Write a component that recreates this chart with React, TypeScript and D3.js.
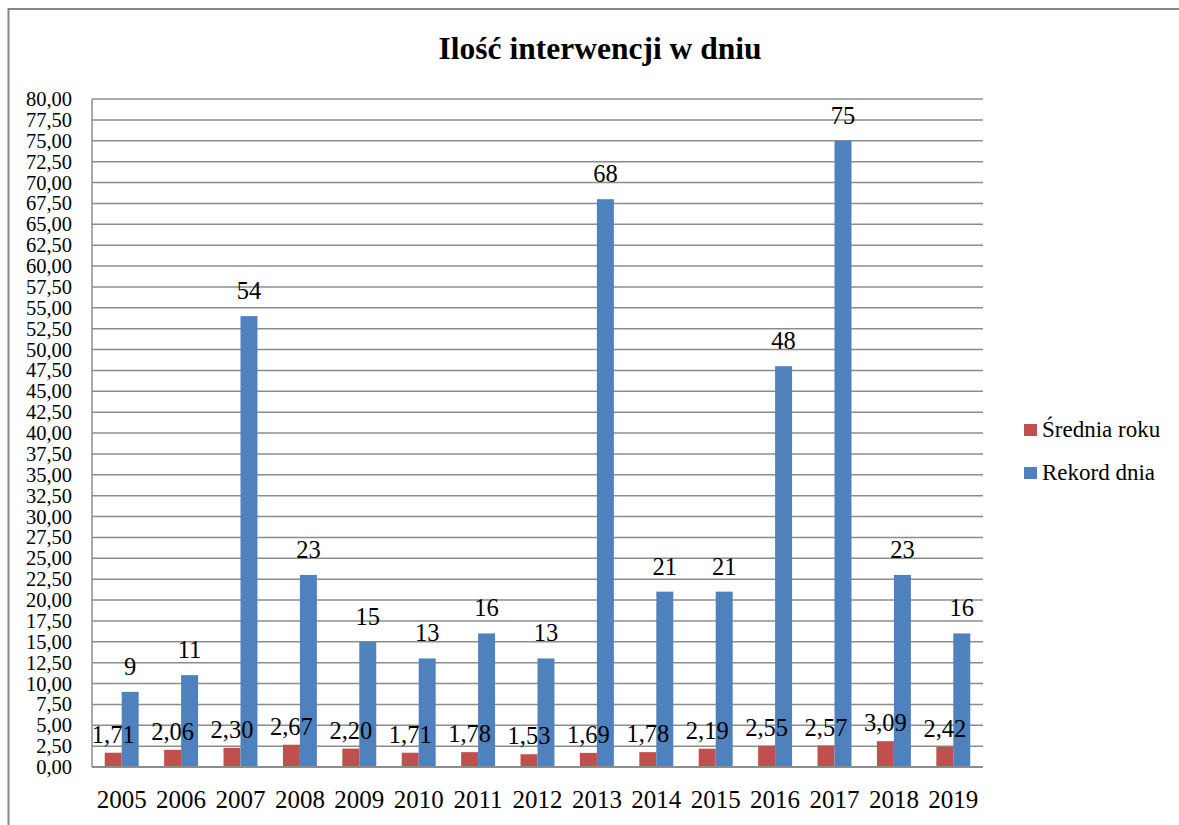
import React from "react";
import * as d3 from "d3";

const years = ["2005","2006","2007","2008","2009","2010","2011","2012","2013","2014","2015","2016","2017","2018","2019"];
const sredniaRoku = [1.71,2.06,2.30,2.67,2.20,1.71,1.78,1.53,1.69,1.78,2.19,2.55,2.57,3.09,2.42];
const rekordDnia = [9,11,54,23,15,13,16,13,68,21,21,48,75,23,16];
const seriesNames = ["Średnia roku","Rekord dnia"];
const seriesColors = ["#C0504D","#4F81BD"];
const yTicks = d3.range(0, 80.001, 2.5);

const W = 1179, H = 825;
const plotLeft = 92, plotRight = 983, plotTop = 99, plotBottom = 767;
const FONT = "Liberation Serif, Times New Roman, serif";

export default function App() {
  const x0 = d3.scaleBand<string>().domain(years).range([plotLeft, plotRight]).paddingInner(0.4286).paddingOuter(0.2143);
  const x1 = d3.scaleBand<string>().domain(seriesNames).range([0, x0.bandwidth()]);
  const y = d3.scaleLinear().domain([0, 80]).range([plotBottom, plotTop]);
  const fmt = (v: number) => d3.format(".2f")(v).replace(".", ",");
  const seriesData = [sredniaRoku, rekordDnia];
  const labelGap = [10, 17];
  const ts = { fontFamily: FONT };

  return (
    <svg width={W} height={H} style={{ position: "absolute", left: 0, top: 0, background: "#fff" }}>
      <rect x={0} y={0} width={W} height={H} fill="#fff" />
      <rect x={8.5} y={9} width={W + 20} height={H + 20} fill="none" stroke="#868686" strokeWidth={2} />
      <text x={600} y={59} textAnchor="middle" fontSize={31.5} fontWeight="bold" fill="#000" style={ts}>Ilość interwencji w dniu</text>
      {yTicks.map((t) => (
        <g key={t}>
          {t > 0 && <line x1={plotLeft} x2={plotRight} y1={y(t)} y2={y(t)} stroke="#8c8c8c" strokeWidth={1.5} />}
          <text x={72} y={y(t) + 7} textAnchor="end" fontSize={20.5} fill="#000" style={ts}>{fmt(t)}</text>
        </g>
      ))}
      {years.map((yr, i) => (
        <g key={yr}>
          {seriesData.map((arr, s) => {
            const bx = (x0(yr) as number) + (x1(seriesNames[s]) as number);
            const bw = x1.bandwidth();
            const v = arr[i];
            return <rect key={s} x={bx} y={y(v)} width={bw} height={plotBottom - y(v)} fill={seriesColors[s]} />;
          })}
        </g>
      ))}
      <line x1={plotLeft} x2={plotLeft} y1={plotTop} y2={plotBottom} stroke="#8c8c8c" strokeWidth={1.5} />
      <line x1={plotLeft} x2={plotRight} y1={plotBottom} y2={plotBottom} stroke="#8c8c8c" strokeWidth={2} />
      {years.map((yr, i) => (
        <g key={yr}>
          {seriesData.map((arr, s) => {
            const bx = (x0(yr) as number) + (x1(seriesNames[s]) as number);
            const bw = x1.bandwidth();
            const v = arr[i];
            return (
              <text key={s} x={bx + bw / 2} y={y(v) - labelGap[s]} textAnchor="middle" fontSize={24.5} fill="#000" style={ts}>
                {s === 0 ? fmt(v) : String(v)}
              </text>
            );
          })}
          <text x={(x0(yr) as number) + x0.bandwidth() / 2} y={808} textAnchor="middle" fontSize={25} fill="#000" style={ts}>{yr}</text>
        </g>
      ))}
      {seriesNames.map((n, s) => (
        <g key={n}>
          <rect x={1024} y={424 + s * 43} width={13} height={12} fill={seriesColors[s]} />
          <text x={1042} y={437 + s * 43} fontSize={23} fill="#000" style={ts}>{n}</text>
        </g>
      ))}
    </svg>
  );
}
